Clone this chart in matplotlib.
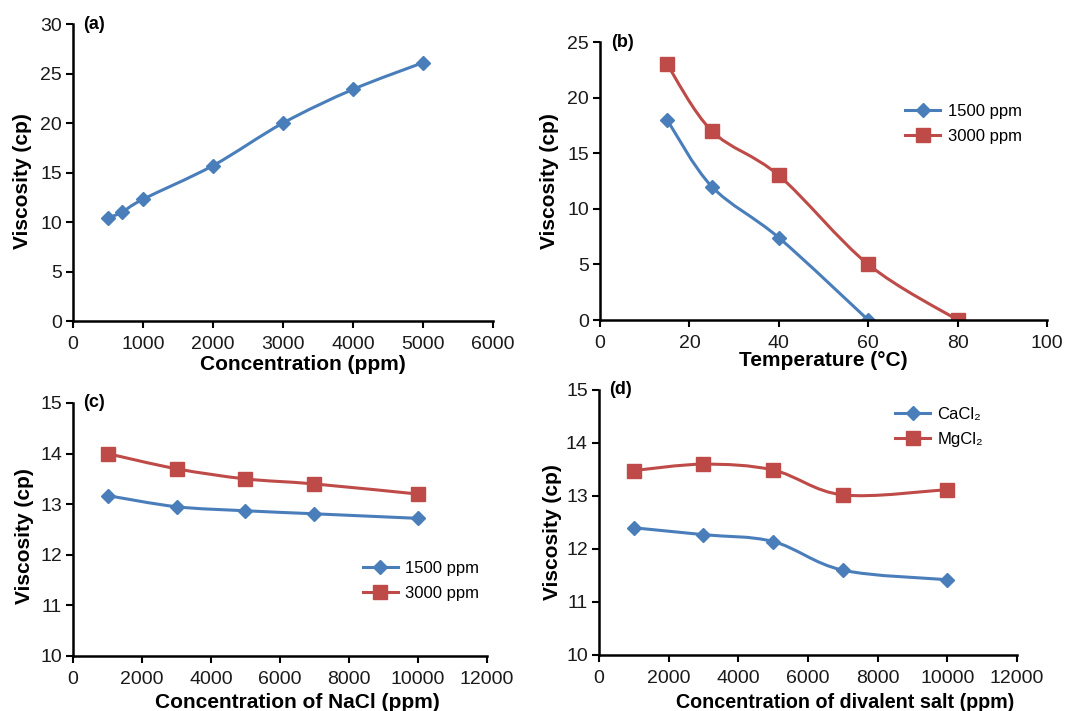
import numpy as np
import matplotlib
matplotlib.use("Agg")
import matplotlib.pyplot as plt
from matplotlib.path import Path
from matplotlib.patches import PathPatch
from matplotlib.lines import Line2D

plt.rcParams['font.family'] = ['Liberation Sans', 'DejaVu Sans']

# Data
conc_a = [500, 700, 1000, 2000, 3000, 4000, 5000]
visc_a = [10.4, 11.0, 12.3, 15.7, 20.0, 23.4, 26.1]

temp_1500 = [15, 25, 40, 60]
visc_b_1500 = [18.0, 12.0, 7.4, 0.0]
temp_3000 = [15, 25, 40, 60, 80]
visc_b_3000 = [23.0, 17.0, 13.0, 5.0, 0.0]

nacl = [1000, 3000, 5000, 7000, 10000]
visc_c_1500 = [13.17, 12.95, 12.87, 12.81, 12.72]
visc_c_3000 = [14.0, 13.7, 13.5, 13.4, 13.2]

salt = [1000, 3000, 5000, 7000, 10000]
visc_cacl2 = [12.4, 12.27, 12.14, 11.6, 11.42]
visc_mgcl2 = [13.48, 13.6, 13.49, 13.02, 13.12]

BLUE = '#4A7EBB'
RED = '#BE4B48'
LW = 2.2
MS_D = 7
MS_S = 9.5


def smooth_line(ax, x, y, color, marker, ms):
    x = np.asarray(x, float)
    y = np.asarray(y, float)
    P = np.column_stack([x, y])
    n = len(P)
    verts = [P[0]]
    codes = [Path.MOVETO]
    for i in range(n - 1):
        p0 = P[i - 1] if i > 0 else P[i]
        p1 = P[i]
        p2 = P[i + 1]
        p3 = P[i + 2] if i + 2 < n else P[i + 1]
        c1 = p1 + (p2 - p0) / 6.0
        c2 = p2 - (p3 - p1) / 6.0
        verts += [c1, c2, p2]
        codes += [Path.CURVE4] * 3
    patch = PathPatch(Path(verts, codes), facecolor='none', edgecolor=color,
                      lw=LW, capstyle='round', joinstyle='round')
    ax.add_patch(patch)
    ax.plot(x, y, linestyle='none', marker=marker, ms=ms, color=color, mec=color)


def style(ax, xlim, xticks, ylim, yticks, xlabel, tag, xl_xy, yl_xy, xl_fs=15):
    ax.set_xlim(*xlim)
    ax.set_ylim(*ylim)
    ax.set_xticks(xticks)
    ax.set_yticks(yticks)
    for s in ['top', 'right']:
        ax.spines[s].set_visible(False)
    for s in ['left', 'bottom']:
        ax.spines[s].set_linewidth(1.8)
        ax.spines[s].set_color('black')
    ax.tick_params(direction='out', length=5, width=1.5, labelsize=14,
                   pad=3, labelcolor='#1a1a1a')
    ax.tick_params(axis='x', pad=6)
    ax.set_xlabel(xlabel, fontsize=xl_fs, fontweight='bold')
    ax.set_ylabel('Viscosity (cp)', fontsize=15, fontweight='bold')
    ax.xaxis.set_label_coords(*xl_xy)
    ax.xaxis.label.set_verticalalignment('center')
    ax.yaxis.set_label_coords(*yl_xy)
    ax.yaxis.label.set_verticalalignment('center')
    ax.text(0.025, 1.0, tag, transform=ax.transAxes, fontsize=13,
            fontweight='bold', va='center', ha='left')


def legend(ax, labels, xy):
    handles = [Line2D([], [], color=BLUE, lw=LW, marker='D', ms=MS_D),
               Line2D([], [], color=RED, lw=LW, marker='s', ms=MS_S)]
    ax.legend(handles, labels, loc='center left', bbox_to_anchor=xy,
              bbox_transform=fig.transFigure, frameon=False, fontsize=12,
              handlelength=2.1, handletextpad=0.45, labelspacing=0.6,
              borderpad=0, borderaxespad=0)


fig = plt.figure(figsize=(10.66, 7.11), dpi=100)

# (a)
axa = fig.add_axes([0.0685, 0.5485, 0.394, 0.4177])
smooth_line(axa, conc_a, visc_a, BLUE, 'D', MS_D)
style(axa, (0, 6000), range(0, 6001, 1000), (0, 30), range(0, 31, 5),
      'Concentration (ppm)', '(a)', (0.548, -0.145), (-0.121, 0.471))

# (b)
axb = fig.add_axes([0.5629, 0.5499, 0.4193, 0.391])
smooth_line(axb, temp_1500, visc_b_1500, BLUE, 'D', MS_D)
smooth_line(axb, temp_3000, visc_b_3000, RED, 's', MS_S)
style(axb, (0, 100), range(0, 101, 20), (0, 25), range(0, 26, 5),
      'Temperature (\u00b0C)', '(b)', (0.5, -0.144), (-0.112, 0.5))
legend(axb, ['1500 ppm', '3000 ppm'], (0.849, 0.8256))

# (c)
axc = fig.add_axes([0.0685, 0.0774, 0.3883, 0.3558])
smooth_line(axc, nacl, visc_c_1500, BLUE, 'D', MS_D)
smooth_line(axc, nacl, visc_c_3000, RED, 's', MS_S)
style(axc, (0, 12000), range(0, 12001, 2000), (10, 15), range(10, 16, 1),
      'Concentration of NaCl (ppm)', '(c)', (0.541, -0.182), (-0.118, 0.474))
legend(axc, ['1500 ppm', '3000 ppm'], (0.3405, 0.1835))

# (d)
axd = fig.add_axes([0.5619, 0.0788, 0.3921, 0.3727])
smooth_line(axd, salt, visc_cacl2, BLUE, 'D', MS_D)
smooth_line(axd, salt, visc_mgcl2, RED, 's', MS_S)
style(axd, (0, 12000), range(0, 12001, 2000), (10, 15), range(10, 16, 1),
      'Concentration of divalent salt (ppm)', '(d)', (0.59, -0.181),
      (-0.112, 0.464), xl_fs=14.2)
legend(axd, ['CaCl\u2082', 'MgCl\u2082'], (0.8396, 0.4001))

fig.savefig('out.png', dpi=100)
